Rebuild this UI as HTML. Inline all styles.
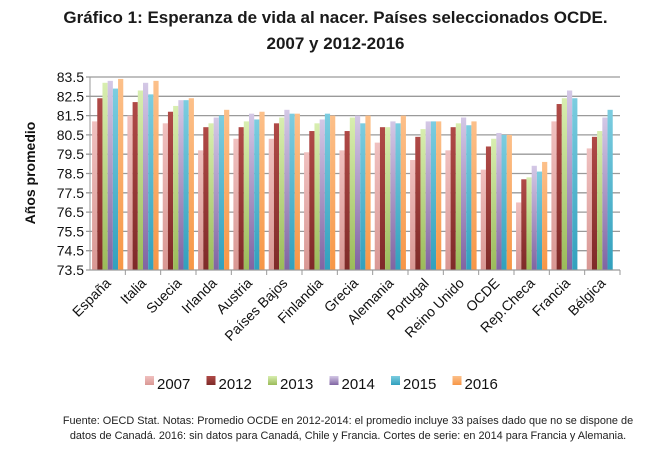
<!DOCTYPE html>
<html><head><meta charset="utf-8"><style>
body{margin:0;background:#fff;width:671px;height:454px;overflow:hidden;font-family:"Liberation Sans",sans-serif}
.t{position:absolute;left:0;width:671px;text-align:center;font-weight:bold;font-size:17px;color:#1a1a1a}
.foot{position:absolute;left:18px;width:660px;font-size:10.9px;line-height:15px;text-align:center;color:#222;white-space:nowrap}
</style></head><body>
<div class="t" style="top:8px">Gráfico 1: Esperanza de vida al nacer. Países seleccionados OCDE.</div>
<div class="t" style="top:34px">2007 y 2012-2016</div>
<svg id="c" width="671" height="454" style="position:absolute;left:0;top:0"></svg>
<div class="foot" style="top:414px">Fuente: OECD Stat. Notas: Promedio OCDE en 2012-2014: el promedio incluye 33 países dado que no se dispone de<br>datos de Canadá. 2016: sin datos para Canadá, Chile y Francia. Cortes de serie: en 2014 para Francia y Alemania.</div>
<script>
const categories=["España","Italia","Suecia","Irlanda","Austria","Países Bajos","Finlandia","Grecia","Alemania","Portugal","Reino Unido","OCDE","Rep.Checa","Francia","Bélgica"];
const years=["2007","2012","2013","2014","2015","2016"];
const v2007=[81.2,81.5,81.1,79.7,80.3,80.3,79.6,79.7,80.1,79.2,79.7,78.7,77.0,81.2,79.8];
const v2012=[82.4,82.2,81.7,80.9,80.9,81.1,80.7,80.7,80.9,80.4,80.9,79.9,78.2,82.1,80.4];
const v2013=[83.2,82.8,82.0,81.1,81.2,81.4,81.1,81.4,80.9,80.8,81.1,80.3,78.3,82.4,80.7];
const v2014=[83.3,83.2,82.3,81.4,81.6,81.8,81.3,81.5,81.2,81.2,81.4,80.6,78.9,82.8,81.4];
const v2015=[82.9,82.6,82.3,81.5,81.3,81.6,81.6,81.1,81.1,81.2,81.0,80.5,78.6,82.4,81.8];
const v2016=[83.4,83.3,82.4,81.8,81.7,81.6,81.5,81.5,81.5,81.2,81.2,80.5,79.1,null,null];
const yTicks=[73.5,74.5,75.5,76.5,77.5,78.5,79.5,80.5,81.5,82.5,83.5];
const series=[v2007,v2012,v2013,v2014,v2015,v2016];
const colors=[["#f0c0bf","#d99894"],["#b04a47","#7e2a28"],["#d8eeb0","#9bbb59"],["#d4c8e6","#8064a2"],["#7ccde0","#31a0bd"],["#fcc08a","#f79646"]];
const svg=document.getElementById('c');const NS="http://www.w3.org/2000/svg";
const X0=90,X1=620,Y0=270,Y1=77,ymin=73.5,ymax=83.5;
const gw=(X1-X0)/categories.length;
const y=v=>Y0-(v-ymin)/(ymax-ymin)*(Y0-Y1);
function mk(t,a,p){const e=document.createElementNS(NS,t);for(const k in a)e.setAttribute(k,a[k]);(p||svg).appendChild(e);return e;}
const defs=mk('defs',{});
colors.forEach((c,i)=>{const g=mk('linearGradient',{id:'g'+i,x1:0,y1:0,x2:0,y2:1},defs);mk('stop',{offset:0,'stop-color':c[0]},g);mk('stop',{offset:1,'stop-color':c[1]},g);});
yTicks.forEach(t=>{const l=mk('line',{x1:X0-4,x2:X1,y1:y(t),y2:y(t),stroke:'#9a9a9a','stroke-width':1.3});

const tx=mk('text',{x:X0-6,y:y(t)+5,'text-anchor':'end','font-size':14,fill:'#111'});tx.textContent=t.toFixed(1);
});
mk('line',{x1:X0,x2:X0,y1:Y1,y2:Y0,stroke:'#999'});
const bw=5.2;
categories.forEach((c,i)=>{const gx=X0+i*gw+(gw-6*bw)/2;
series.forEach((s,j)=>{if(s[i]==null)return;const r=mk('rect',{x:gx+j*bw,y:y(s[i]),width:bw,height:Y0-y(s[i]),fill:'url(#g'+j+')'});
});
mk('line',{x1:X0+(i+1)*gw,x2:X0+(i+1)*gw,y1:Y0,y2:Y0+5,stroke:'#999'});
const cx=X0+(i+0.5)*gw+4;const tx=mk('text',{x:cx,y:Y0+14,'text-anchor':'end','font-size':14,fill:'#111',transform:`rotate(-45 ${cx} ${Y0+14})`});tx.textContent=c;
});
mk('line',{x1:X0,x2:X1,y1:Y0,y2:Y0,stroke:'#999'});
const yt=mk('text',{x:35,y:173,'text-anchor':'middle','font-size':14,'font-weight':'bold',fill:'#111',transform:'rotate(-90 35 173)'});yt.textContent='Años promedio';

years.forEach((yr,j)=>{const lx=145+j*61.5;const r=mk('rect',{x:lx,y:376,width:9,height:9,fill:'url(#g'+j+')'});

const t=mk('text',{x:lx+12,y:389,'font-size':15,fill:'#111'});t.textContent=yr;
});
</script>
</body></html>
